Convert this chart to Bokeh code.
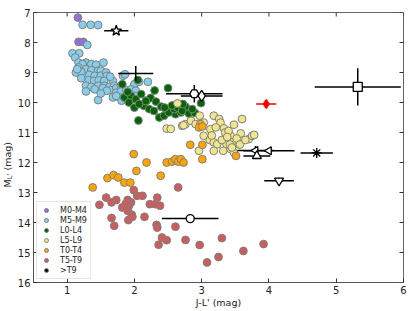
import math
import numpy as np
from bokeh.plotting import figure
from bokeh.layouts import row
from bokeh.models import Range1d, FixedTicker
from bokeh.core.properties import value
from bokeh.embed import file_html
from bokeh.resources import INLINE

FONT = "DejaVu Sans"

# ---------------- data ----------------
x_ticks = [1, 2, 3, 4, 5, 6]
y_ticks = [7, 8, 9, 10, 11, 12, 13, 14, 15, 16]

m04_x = [1.16, 1.17, 1.24]
m04_y = [7.17, 7.98, 7.98]

m59_x = [1.23, 1.35, 1.46, 1.30, 1.08, 1.18, 1.12, 1.17, 1.28, 1.36, 1.43, 1.54, 1.23,
         1.17, 1.28, 1.36, 1.46, 1.50, 1.13, 1.21, 1.33, 1.41, 1.50, 1.58, 1.59, 1.68,
         1.21, 1.32, 1.40, 1.47, 1.55, 1.64, 1.28, 1.36, 1.46, 1.55, 1.63, 1.70, 1.28,
         1.41, 1.53, 1.65, 1.73, 1.80, 1.83, 1.86, 2.00, 2.07, 2.20, 1.73, 1.80, 1.88,
         1.95, 2.02, 1.68, 1.78, 1.85, 1.93, 2.00, 1.46, 1.81, 1.90, 1.73, 1.59, 1.50,
         1.15]
m59_y = [7.41, 7.41, 7.42, 8.08, 8.36, 8.36, 8.50, 8.67, 8.67, 8.72, 8.74, 8.67, 8.72,
         8.83, 8.89, 8.92, 8.94, 8.94, 9.00, 8.98, 9.08, 9.11, 9.11, 9.00, 9.11, 9.28,
         9.19, 9.26, 9.28, 9.26, 9.28, 9.14, 9.44, 9.48, 9.44, 9.44, 9.48, 9.44, 9.63,
         9.56, 9.52, 9.59, 9.52, 9.44, 9.11, 9.06, 9.39, 9.31, 9.31, 9.67, 9.63, 9.59,
         9.56, 9.61, 9.83, 9.83, 9.89, 9.83, 9.78, 9.92, 9.94, 9.94, 9.78, 9.61, 9.70,
         8.89]

l04_x = [1.82, 2.05, 2.30, 2.50, 2.06, 2.99, 1.85, 1.95, 2.02, 2.10, 2.18, 2.24, 2.32,
         2.40, 2.47, 2.54, 2.61, 2.69, 2.76, 2.37, 2.44, 2.51, 2.14, 2.22, 2.29, 1.92,
         2.00, 2.07, 2.59, 2.64, 2.71, 2.81, 2.90, 2.45, 1.90, 2.17, 2.56, 2.72, 2.86]
l04_y = [9.39, 9.25, 9.60, 9.52, 10.60, 10.02, 9.83, 9.78, 9.89, 9.72, 9.94, 9.85, 9.97,
         10.14, 10.22, 10.28, 10.39, 10.33, 10.14, 10.50, 10.44, 10.33, 10.11, 10.22,
         10.28, 10.00, 10.17, 10.05, 10.22, 10.17, 10.28, 10.37, 10.35, 10.17, 9.65,
         9.95, 10.10, 10.05, 10.22]

l59_x = [2.64, 2.97, 3.18, 3.26, 3.28, 3.60, 2.71, 2.76, 2.84, 2.91, 3.03, 3.13, 3.21,
         3.33, 3.48, 3.35, 3.03, 3.43, 3.58, 3.12, 3.18, 3.23, 3.37, 3.45, 3.55, 3.70,
         3.75, 2.96, 3.18, 3.32, 3.43, 3.48, 2.48, 2.54, 2.73, 3.40, 3.52, 3.42, 3.57,
         3.30, 3.38, 3.45, 3.65, 3.78, 3.15]
l59_y = [10.03, 10.44, 10.44, 10.55, 10.67, 10.55, 10.78, 10.72, 10.61, 10.72, 10.67,
         10.89, 10.83, 10.86, 10.74, 11.00, 11.11, 11.11, 11.03, 11.25, 11.33, 11.39,
         11.39, 11.33, 11.39, 11.22, 11.11, 11.61, 11.61, 11.61, 11.55, 11.67, 10.87,
         10.88, 10.76, 10.95, 11.20, 11.40, 11.40, 11.25, 11.15, 11.50, 11.25, 11.08,
         11.10]

t04_x = [2.83, 3.01, 3.51, 1.99, 2.18, 2.48, 2.56, 2.61, 2.65, 2.69, 2.73, 3.01, 2.03,
         2.39, 1.38, 1.60, 1.69, 1.76, 1.85, 1.94, 2.98, 2.96, 3.01]
t04_y = [11.41, 11.41, 11.78, 11.72, 12.00, 12.00, 11.97, 11.89, 11.97, 11.89, 12.00,
         11.89, 12.28, 12.44, 12.83, 12.52, 12.42, 12.50, 12.67, 12.67, 10.72, 10.83,
         10.80]

t59_x = [1.58, 1.66, 1.73, 1.48, 1.99, 2.04, 2.12, 1.95, 1.90, 1.92, 1.82, 2.34, 2.23,
         2.31, 2.38, 2.65, 1.66, 1.70, 1.90, 1.96, 1.91, 1.97, 2.15, 2.33, 2.34, 2.41,
         2.48, 2.36, 2.61, 2.76, 2.97, 3.08, 3.25, 3.30, 3.62, 3.92, 1.87]
t59_y = [13.17, 13.33, 13.25, 13.41, 12.92, 13.11, 13.11, 13.33, 13.25, 13.44, 13.50,
         13.17, 13.39, 13.39, 13.44, 12.83, 13.85, 14.11, 13.61, 13.74, 13.92, 13.81,
         13.81, 14.08, 14.17, 14.50, 14.59, 14.74, 14.14, 14.58, 14.75, 15.33, 15.15,
         14.52, 14.95, 14.72, 13.38]

# the one >T9 object (drawn with its own marker among the error-bar objects)
gt9_x = [4.71]
gt9_y = [11.68]

# individual objects with error bars
obj_x = [1.73, 2.02, 2.89, 3.00, 3.96, 5.32, 3.80, 4.00, 3.82, 4.71, 4.15, 2.83]
obj_y = [7.61, 9.03, 9.71, 9.78, 10.05, 9.48, 11.60, 11.61, 11.78, 11.68, 12.61, 13.87]
obj_xerr = [0.18, 0.26, 0.42, 0.31, 0.15, 0.64, 0.27, 0.38, 0.20, 0.24, 0.22, 0.42]
obj_yerr = [0.10, 0.25, 0.29, 0.05, 0.07, 0.62, 0.15, 0.05, 0.10, 0.08, 0.10, 0.00]

# y-axis title pieces: main symbol, subscript, unit
ylab_main = "M"
ylab_sub = "L'"
ylab_unit = "(mag)"

# ---------------- main figure ----------------
X0, X1 = 0.5, 6.0
Y0, Y1 = 16.0, 7.0
FW, FH = 370, 270
LABEL_W = 13

p = figure(frame_width=FW, frame_height=FH,
           x_range=Range1d(X0, X1), y_range=Range1d(Y0, Y1),
           output_backend="svg", toolbar_location=None,
           min_border_left=33 - LABEL_W, min_border_top=12, min_border_right=4,
           min_border_bottom=2)
p.grid.visible = False
p.outline_line_color = "#666666"
p.background_fill_color = "white"
p.border_fill_color = "white"

AX_COL = "#555555"


def style_axis(ax, ticks):
    ax.ticker = FixedTicker(ticks=ticks)
    ax.major_tick_in = 4
    ax.major_tick_out = 0
    ax.minor_tick_in = 0
    ax.minor_tick_out = 0
    ax.axis_line_color = AX_COL
    ax.major_tick_line_color = "#333333"
    ax.major_label_text_font = FONT
    ax.major_label_text_color = "#222222"
    ax.major_label_text_font_size = "10px"
    ax.major_label_standoff = 3


style_axis(p.xaxis[0], x_ticks)
style_axis(p.yaxis[0], y_ticks)
p.xaxis[0].axis_label = "J-L' (mag)"
p.xaxis[0].axis_label_text_font = FONT
p.xaxis[0].axis_label_text_font_size = "9.5px"
p.xaxis[0].axis_label_text_font_style = "normal"
p.xaxis[0].axis_label_text_color = "#222222"
p.xaxis[0].axis_label_standoff = 0

# inward ticks on the top and right frame edges (tick length 4 px)
dy = 4 * (Y0 - Y1) / FH
dx = 4 * (X1 - X0) / FW
p.segment(x0=x_ticks, x1=x_ticks, y0=[Y1] * len(x_ticks), y1=[Y1 + dy] * len(x_ticks),
          line_color="#333333", line_width=1)
p.segment(x0=[X1] * len(y_ticks), x1=[X1 - dx] * len(y_ticks), y0=y_ticks, y1=y_ticks,
          line_color="#333333", line_width=1)

EDGE = "#808080"
groups = [
    (m04_x, m04_y, "#9370DB", "M0-M4"),
    (m59_x, m59_y, "#87CEEB", "M5-M9"),
    (l04_x, l04_y, "#006400", "L0-L4"),
    (l59_x, l59_y, "#F0E68C", "L5-L9"),
    (t04_x, t04_y, "#FFA500", "T0-T4"),
    (t59_x, t59_y, "#CD5C5C", "T5-T9"),
]
for gx, gy, col, name in groups:
    p.scatter(gx, gy, size=7.8, fill_color=col, line_color=EDGE, line_width=1,
              legend_label=name)
r_gt9 = p.scatter(gt9_x, gt9_y, size=7.8, fill_color="black", line_color=EDGE,
                  line_width=1, legend_label=">T9")
r_gt9.visible = False

# error bars
ox = np.array(obj_x)
oy = np.array(obj_y)
oxe = np.array(obj_xerr)
oye = np.array(obj_yerr)
bar_col = ["black"] * len(ox)
bar_col[4] = "red"
p.segment(x0=ox - oxe, x1=ox + oxe, y0=oy, y1=oy, line_color=bar_col, line_width=1.5)
p.segment(x0=ox, x1=ox, y0=oy - oye, y1=oy + oye, line_color=bar_col, line_width=1.5)

marker_style = [
    ("star", 11, "white", "black", 0),
    ("cross", 1, "black", "black", 0),
    ("hex", 9, "white", "black", 0),
    ("diamond", 11, "white", "black", 0),
    ("diamond", 9, "red", "red", 0),
    ("square", 9, "white", "black", 0),
    ("triangle", 8, "white", "black", math.pi / 2),
    ("triangle", 8, "white", "black", math.pi / 2),
    ("triangle", 9, "white", "black", 0),
    ("asterisk", 10, "black", "black", 0),
    ("inverted_triangle", 9, "white", "black", 0),
    ("circle", 8, "white", "black", 0),
]
for i, (mk, sz, fc, lc, ang) in enumerate(marker_style):
    p.scatter([obj_x[i]], [obj_y[i]], marker=mk, size=sz, fill_color=fc,
              line_color=lc, line_width=1.3, angle=ang)

lg = p.legend[0]
lg.location = "bottom_left"
lg.margin = 3
lg.padding = 3
lg.spacing = 0
lg.glyph_height = 10
lg.glyph_width = 12
lg.label_height = 10
lg.label_standoff = 8
lg.label_text_font = FONT
lg.label_text_font_size = "8px"
lg.label_text_line_height = 1.0
lg.label_text_color = "#222222"
lg.border_line_color = "#cccccc"
lg.background_fill_alpha = 0.9

# ---------------- narrow strip holding the rotated y-axis title ----------------
LH = 300
lf = figure(frame_width=LABEL_W, frame_height=LH,
            x_range=Range1d(0, LABEL_W), y_range=Range1d(LH, 0),
            output_backend="svg", toolbar_location=None,
            min_border_left=0, min_border_right=0, min_border_top=0,
            min_border_bottom=0)
lf.axis.visible = False
lf.grid.visible = False
lf.outline_line_color = None
lf.background_fill_color = "white"
lf.border_fill_color = "white"
txt_kw = dict(angle=math.pi / 2, text_font=value(FONT), text_color="#222222",
              text_align="left", text_baseline="middle")
lf.text(x=[7, 7], y=[175, 158], text=[ylab_main, ylab_unit],
        text_font_size=value("9.5px"), **txt_kw)
lf.text(x=[9.6], y=[166.8], text=[ylab_sub], text_font_size=value("7px"), **txt_kw)

layout = row(lf, p)
open("out.html", "w").write(file_html(layout, INLINE))
